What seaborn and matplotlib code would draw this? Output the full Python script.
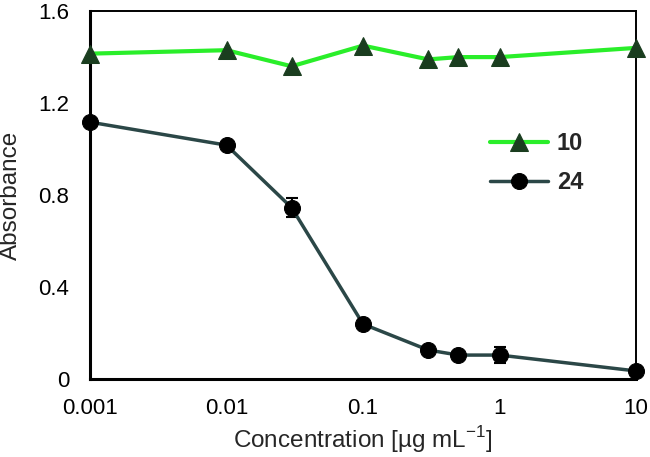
import numpy as np
import pandas as pd
import matplotlib.pyplot as plt
import seaborn as sns
from matplotlib.ticker import MultipleLocator, FixedLocator, FuncFormatter

conc = [0.001, 0.01, 0.03, 0.1, 0.3, 0.5, 1, 10]
abs_10 = [1.415, 1.43, 1.36, 1.45, 1.39, 1.40, 1.40, 1.44]
abs_24 = [1.117, 1.017, 0.745, 0.239, 0.126, 0.104, 0.104, 0.035]
err_24 = [0.0, 0.015, 0.04, 0.0, 0.01, 0.0, 0.035, 0.0]
xticks = [0.001, 0.01, 0.1, 1, 10]
xticklabels = ['0.001', '0.01', '0.1', '1', '10']

sns.set_style('white')
plt.rcParams['font.family'] = ['Liberation Sans', 'DejaVu Sans']
plt.rcParams['mathtext.fontset'] = 'custom'
plt.rcParams['mathtext.rm'] = 'Liberation Sans'

fig = plt.figure(figsize=(6.5, 4.57), dpi=100)
ax = fig.add_axes([0.1385, 0.1707, 0.840, 0.805])

df10 = pd.DataFrame({'x': conc, 'y': abs_10})
df24 = pd.DataFrame({'x': conc, 'y': abs_24})

sns.lineplot(data=df10, x='x', y='y', ax=ax, color='#2aee2a', linewidth=3,
             marker='^', markersize=13, markerfacecolor='#1a3d1f',
             markeredgecolor='#1a3d1f', label='10', clip_on=False, zorder=3)
ax.errorbar(conc, abs_24, yerr=err_24, fmt='none', ecolor='black',
            elinewidth=1.5, capsize=4, capthick=1.5, zorder=4)
sns.lineplot(data=df24, x='x', y='y', ax=ax, color='#2b4747', linewidth=2.5,
             marker='o', markersize=11.5, markerfacecolor='black',
             markeredgecolor='black', label='24', clip_on=False, zorder=5)

ax.set_xscale('log')
ax.set_xlim(0.001, 10)
ax.set_ylim(0, 1.6)
ax.xaxis.set_major_locator(FixedLocator(xticks))
ax.xaxis.set_major_formatter(FuncFormatter(lambda v, p: xticklabels[xticks.index(v)] if v in xticks else ''))
ax.xaxis.set_minor_locator(FixedLocator([]))
ax.yaxis.set_major_locator(MultipleLocator(0.4))
ax.yaxis.set_minor_locator(MultipleLocator(0.2))
ax.yaxis.set_major_formatter(FuncFormatter(lambda v, p: '0' if abs(v) < 1e-9 else f'{v:.1f}'))

ax.tick_params(axis='both', which='both', direction='in', labelsize=16,
               width=1.5, colors='black')
ax.tick_params(axis='both', which='major', length=6)
ax.tick_params(axis='y', which='minor', length=5)
ax.tick_params(axis='y', which='major', pad=15)
ax.tick_params(axis='x', which='major', pad=14)

for side in ['left', 'bottom']:
    ax.spines[side].set_linewidth(2.2)
    ax.spines[side].set_color('black')
for side in ['top', 'right']:
    ax.spines[side].set_linewidth(1.4)
    ax.spines[side].set_color('black')

ax.set_xlabel('Concentration [µg mL$^{-1}$]', fontsize=17.5)
ax.xaxis.label.set_verticalalignment('baseline')
ax.xaxis.set_label_coords(0.5, -0.1875)
ax.set_ylabel('Absorbance', fontsize=17.5)
ax.yaxis.set_label_coords(-0.1245, 0.5)

leg = ax.legend(loc='center left', bbox_to_anchor=(0.693, 0.587), frameon=False,
                fontsize=17, handlelength=2.45, labelspacing=0.7, handletextpad=0.4)
for t in leg.get_texts():
    t.set_fontweight('bold')

fig.savefig('out.png', dpi=100)
